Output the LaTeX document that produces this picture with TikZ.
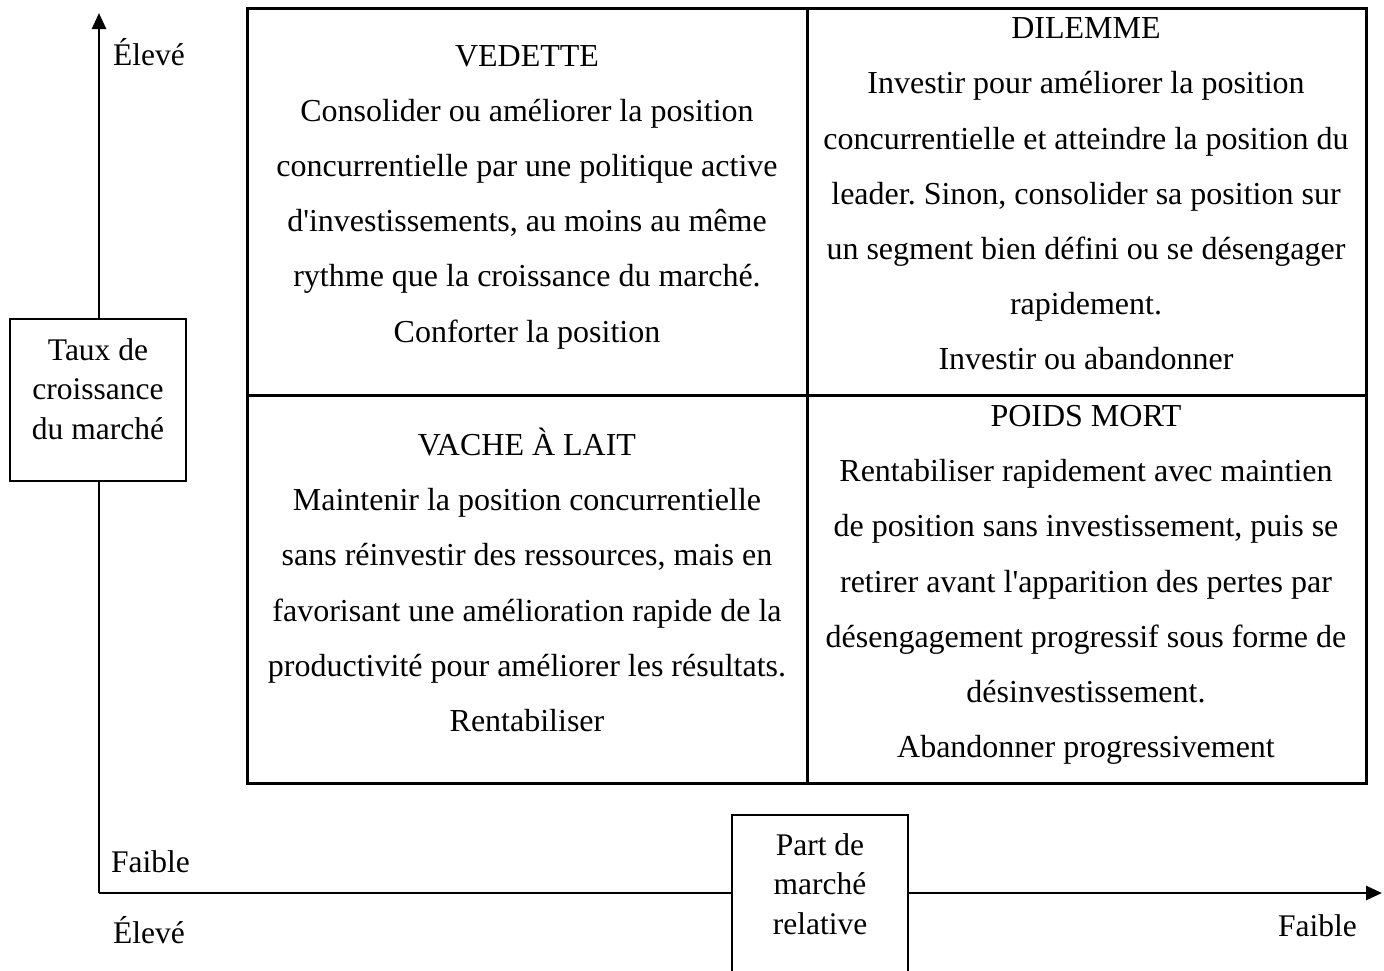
\documentclass[tikz,border=0pt]{standalone}
\usepackage{fontspec}
\setmainfont{Liberation Serif}
\usetikzlibrary{arrows.meta}
\frenchspacing
\begin{document}
\begin{tikzpicture}[x=1pt,y=-1pt,
  cell/.style={align=center, inner sep=0pt, font=\fontsize{32}{55.2}\selectfont},
  frame/.style={draw, line width=2pt, fill=white, minimum width=176pt, inner sep=0pt},
  axtext/.style={align=center, inner sep=0pt, font=\fontsize{31.5}{39.5}\selectfont},
  lbl/.style={anchor=base west, inner sep=0pt, font=\fontsize{31.5}{37}\selectfont},
  axis/.style={line width=2.6pt, -{Triangle[length=16pt,width=14pt]}},
  gridline/.style={line width=3pt}]
\useasboundingbox (0,0) rectangle (1384,970);
% axes
\coordinate (O) at (99,893);
\coordinate (ytop) at (99,13);
\coordinate (xend) at (1382,893);
\draw[axis] (O) -- (ytop);
\draw[axis] (O) -- (xend);
% vertical axis box
\node[frame, minimum height=162pt] (ybox) at (98,400) {};
\node[axtext] (ylab) at (98,389) {Taux de\\croissance\\du marché};
% horizontal axis box (open at the bottom edge)
\coordinate (xb1) at (732,980);
\coordinate (xb2) at (732,815);
\coordinate (xb3) at (908,815);
\coordinate (xb4) at (908,980);
\fill[white] (xb1) rectangle (xb3);
\draw[line width=2pt] (xb1) -- (xb2) -- (xb3) -- (xb4);
\node[axtext] (xlab) at (820,884) {Part de\\marché\\relative};
% axis labels
\node[lbl] (yhigh) at (113,65) {Élevé};
\node[lbl] (ylow) at (111,872) {Faible};
\node[lbl] (xhigh) at (113,943) {Élevé};
\node[lbl] (xlow) at (1278,936) {Faible};
% matrix
\coordinate (gnw) at (247,8);
\coordinate (gse) at (1366,783);
\coordinate (gn) at (807,8);
\coordinate (gs) at (807,783);
\coordinate (gw) at (247,395);
\coordinate (ge) at (1366,395);
\draw[gridline] (gnw) rectangle (gse);
\draw[gridline] (gn) -- (gs);
\draw[gridline] (gw) -- (ge);
% cells
\node[cell] (vedette) at (527,197) {VEDETTE\\Consolider ou améliorer la position\\concurrentielle par une politique active\\d\textquotesingle investissements, au moins au même\\rythme que la croissance du marché.\\Conforter la position};
\node[cell] (dilemme) at (1086,194) {DILEMME\\Investir pour améliorer la position\\concurrentielle et atteindre la position du\\leader. Sinon, consolider sa position sur\\un segment bien défini ou se désengager\\rapidement.\\Investir ou abandonner};
\node[cell] (vache) at (527,580) {VACHE À LAIT\\Maintenir la position concurrentielle\\sans réinvestir des ressources, mais en\\favorisant une amélioration rapide de la\\productivité pour améliorer les résultats.\\Rentabiliser};
\node[cell] (poids) at (1086,585) {POIDS MORT\\Rentabiliser rapidement avec maintien\\de position sans investissement, puis se\\retirer avant l\textquotesingle apparition des pertes par\\désengagement progressif sous forme de\\désinvestissement.\\Abandonner progressivement};
\end{tikzpicture}
\end{document}
